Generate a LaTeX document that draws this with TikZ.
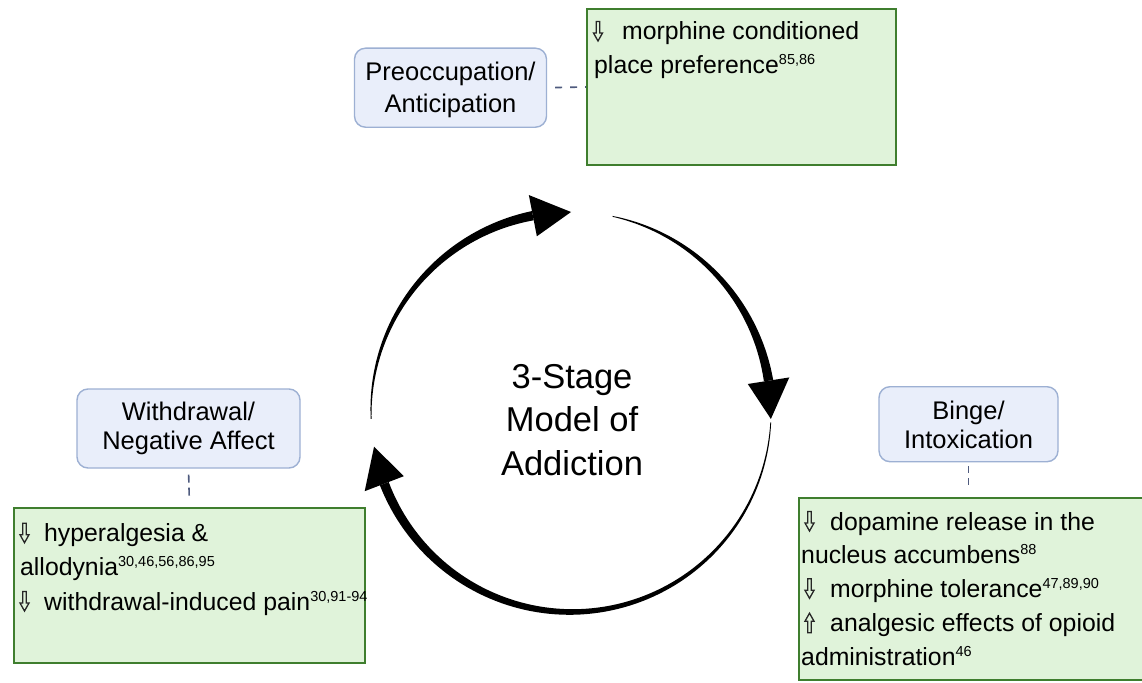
\documentclass[tikz,border=0pt]{standalone}
\usepackage{fontspec}
\setmainfont{Liberation Sans}
\definecolor{stagefill}{HTML}{E9EEFA}
\definecolor{stageline}{HTML}{9DB0D3}
\definecolor{notefill}{HTML}{E0F3DA}
\definecolor{noteline}{HTML}{3F7E2E}
\definecolor{linkcol}{HTML}{4F5B7E}
\newcommand\supr[1]{\raisebox{8.5pt}{\fontsize{14.5}{14}\selectfont #1}}
\newcommand\cyclearrow[2]{%
  \pgfmathsetmacro\hbase{#2+11}%
  \pgfmathsetmacro\arcspan{#1-\hbase}%
  \fill[black] plot[domain=#1:\hbase,samples=90]
    ({571+(200+0.4+4.3*(#1-(\x))/\arcspan)*cos(\x)},{412-(200+0.4+4.3*(#1-(\x))/\arcspan)*sin(\x)})
    -- plot[domain=\hbase:#1,samples=90]
    ({571+(200-0.4-4.3*(#1-(\x))/\arcspan)*cos(\x)},{412-(200-0.4-4.3*(#1-(\x))/\arcspan)*sin(\x)})
    -- cycle;
  \fill[black] ({571+221*cos(\hbase)},{412-221*sin(\hbase)})
    -- ({571+179*cos(\hbase)},{412-179*sin(\hbase)})
    -- ({571+200*cos(#2)},{412-200*sin(#2)}) -- cycle;
}
\tikzset{
  stagebox/.style={draw=stageline, fill=stagefill, line width=1.4pt, rounded corners=11pt, inner sep=0pt},
  notebox/.style={draw=noteline, fill=notefill, line width=2pt, inner sep=0pt},
  stagetext/.style={anchor=base, inner sep=0pt, font=\fontsize{25.5}{30}\selectfont},
  notetext/.style={anchor=base west, inner sep=0pt, font=\fontsize{24.8}{30}\selectfont},
  centertext/.style={anchor=base, inner sep=0pt, font=\fontsize{34.5}{40}\selectfont},
  link/.style={draw=linkcol, line width=1.6pt, dash pattern=on 7pt off 8pt},
  glyphline/.style={draw=black!85, line width=1.3pt, line join=miter},
  downglyph/.pic={\draw[glyphline] (2.7,-18.5) -- (6.3,-18.5) -- (6.3,-7) -- (9,-7) -- (4.5,1) -- (0,-7) -- (2.7,-7) -- cycle;},
  upglyph/.pic={\draw[glyphline] (2.7,1) -- (6.3,1) -- (6.3,-10.5) -- (9,-10.5) -- (4.5,-18.5) -- (0,-10.5) -- (2.7,-10.5) -- cycle;}
}
\begin{document}
\begin{tikzpicture}[x=1pt,y=-1pt]
\useasboundingbox (0,0) rectangle (1142,682);
\fill[white] (0,0) rectangle (1142,682);

% stage boxes
\node[stagebox, minimum width=192pt, minimum height=79pt] (pre) at (450.5,87.7) {};
\node[stagebox, minimum width=223pt, minimum height=79pt] (wd) at (188.5,428.5) {};
\node[stagebox, minimum width=179pt, minimum height=75pt] (bi) at (968.5,424.2) {};

% note boxes
\node[notebox, minimum width=309pt, minimum height=156pt] (g1) at (741.5,87) {};
\node[notebox, minimum width=351pt, minimum height=155pt] (g2) at (189.5,585.5) {};
\node[notebox, minimum width=351pt, minimum height=182pt] (g3) at (974.5,589) {};

% dashed links
\draw[link, dash phase=7pt] (pre.east) -- (g1.west);
\draw[link, dash pattern=on 8pt off 5pt, shorten <=6pt, shorten >=11pt] (wd.south) -- (g2.north);
\draw[link, dash pattern=on 7pt off 5pt, shorten <=4pt, shorten >=9pt] (bi.south) -- (bi.south |- g3.north);

% stage labels
\node[stagetext] (pre1) at (450.5,81) {Preoccupation/};
\node[stagetext] (pre2) at (450.5,112.5) {Anticipation};
\node[stagetext] (wd1) at (188.5,420.5) {Withdrawal/};
\node[stagetext] (wd2) at (188.5,449.5) {Negative Affect};
\node[stagetext] (bi1) at (968.5,419) {Binge/};
\node[stagetext] (bi2) at (968.5,448) {Intoxication};

% note texts
\node[notetext] (n11) at (593,40) {\hspace*{29pt}morphine conditioned};
\node[notetext] (n12) at (594,73.3) {place preference\supr{85,86}};

\node[notetext] (n21) at (20,541.7) {\hspace*{24pt}hyperalgesia \&};
\node[notetext] (n22) at (20,575) {allodynia\supr{30,46,56,86,95}};
\node[notetext] (n23) at (20,610) {\hspace*{24pt}withdrawal-induced pain\supr{30,91-94}};

\node[notetext] (n31) at (805,530) {\hspace*{25pt}dopamine release in the};
\node[notetext] (n32) at (801,563.3) {nucleus accumbens\supr{88}};
\node[notetext] (n33) at (805,597.3) {\hspace*{25pt}morphine tolerance\supr{47,89,90}};
\node[notetext] (n34) at (805,631.7) {\hspace*{25pt}analgesic effects of opioid};
\node[notetext] (n35) at (801,665) {administration\supr{46}};

% arrow glyphs
\pic at (593.5,40) {downglyph};
\pic at (20,541.7) {downglyph};
\pic at (20,610) {downglyph};
\pic at (805,530) {downglyph};
\pic at (805,597.3) {downglyph};
\pic at (805,631.7) {upglyph};

% cycle
\cyclearrow{182}{90}
\cyclearrow{78}{-2}
\cyclearrow{-3}{-170}

\node[centertext] (c1) at (572,388) {3-Stage};
\node[centertext] (c2) at (572,431) {Model of};
\node[centertext] (c3) at (572,475) {Addiction};
\end{tikzpicture}
\end{document}
